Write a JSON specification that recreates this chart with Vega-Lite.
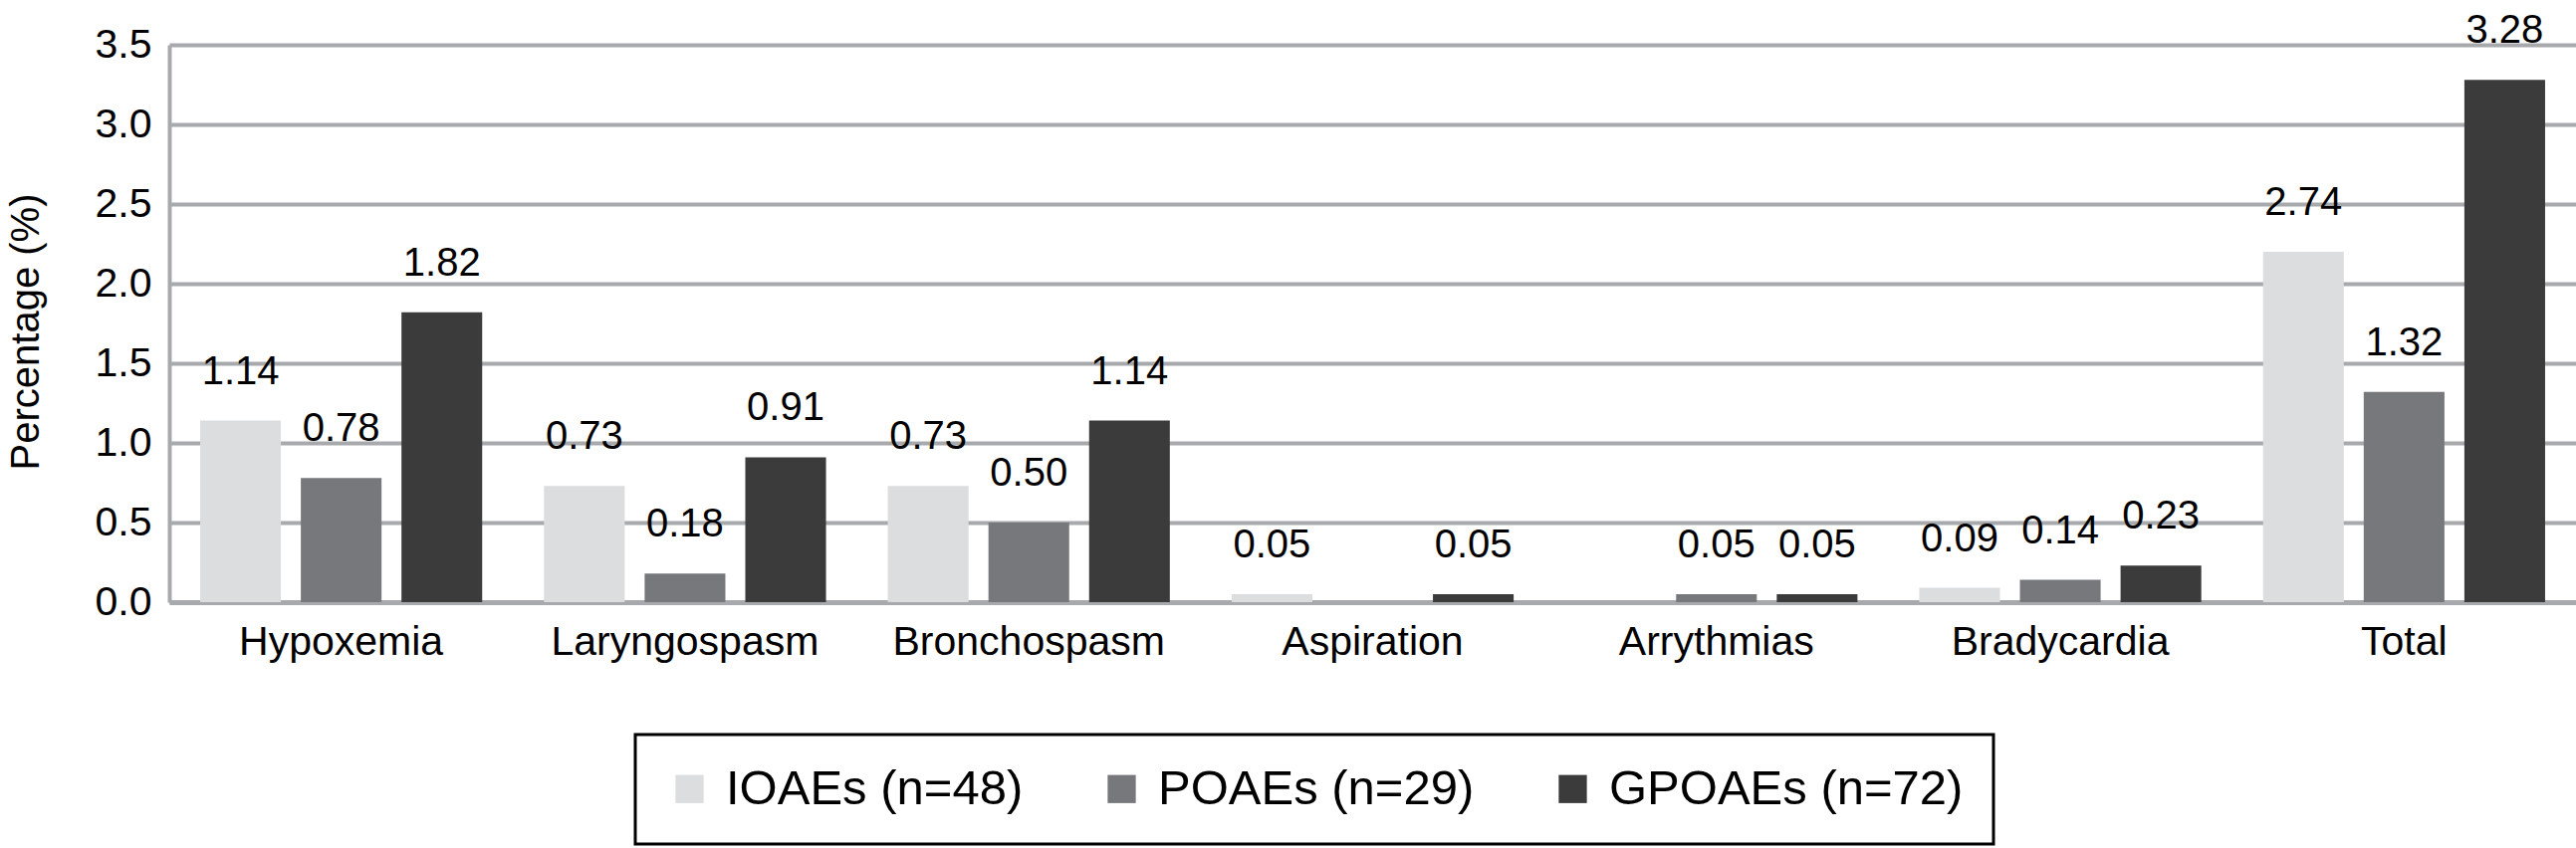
{
  "$schema": "https://vega.github.io/schema/vega-lite/v6.json",
  "width": 2417,
  "height": 560,
  "autosize": {"type": "none"},
  "padding": {"left": 170, "top": 45, "right": 0, "bottom": 247},
  "background": "white",
  "config": {"view": {"stroke": null}, "font": "Liberation Sans"},
  "data": {
    "values": [
      {"category": "Hypoxemia", "series": "IOAEs (n=48)", "value": 1.14, "label": "1.14"},
      {"category": "Hypoxemia", "series": "POAEs (n=29)", "value": 0.78, "label": "0.78"},
      {"category": "Hypoxemia", "series": "GPOAEs (n=72)", "value": 1.82, "label": "1.82"},
      {"category": "Laryngospasm", "series": "IOAEs (n=48)", "value": 0.73, "label": "0.73"},
      {"category": "Laryngospasm", "series": "POAEs (n=29)", "value": 0.18, "label": "0.18"},
      {"category": "Laryngospasm", "series": "GPOAEs (n=72)", "value": 0.91, "label": "0.91"},
      {"category": "Bronchospasm", "series": "IOAEs (n=48)", "value": 0.73, "label": "0.73"},
      {"category": "Bronchospasm", "series": "POAEs (n=29)", "value": 0.5, "label": "0.50"},
      {"category": "Bronchospasm", "series": "GPOAEs (n=72)", "value": 1.14, "label": "1.14"},
      {"category": "Aspiration", "series": "IOAEs (n=48)", "value": 0.05, "label": "0.05"},
      {"category": "Aspiration", "series": "GPOAEs (n=72)", "value": 0.05, "label": "0.05"},
      {"category": "Arrythmias", "series": "POAEs (n=29)", "value": 0.05, "label": "0.05"},
      {"category": "Arrythmias", "series": "GPOAEs (n=72)", "value": 0.05, "label": "0.05"},
      {"category": "Bradycardia", "series": "IOAEs (n=48)", "value": 0.09, "label": "0.09"},
      {"category": "Bradycardia", "series": "POAEs (n=29)", "value": 0.14, "label": "0.14"},
      {"category": "Bradycardia", "series": "GPOAEs (n=72)", "value": 0.23, "label": "0.23"},
      {"category": "Total", "series": "IOAEs (n=48)", "value": 2.2, "label": "2.74"},
      {"category": "Total", "series": "POAEs (n=29)", "value": 1.32, "label": "1.32"},
      {"category": "Total", "series": "GPOAEs (n=72)", "value": 3.28, "label": "3.28"}
    ]
  },
  "encoding": {
    "x": {
      "field": "category",
      "type": "nominal",
      "sort": ["Hypoxemia", "Laryngospasm", "Bronchospasm", "Aspiration", "Arrythmias", "Bradycardia", "Total"],
      "scale": {"paddingInner": 0, "paddingOuter": 0},
      "axis": {
        "title": null,
        "labelAngle": 0,
        "labelFontSize": 41,
        "labelColor": "black",
        "labelLimit": 0,
        "labelPadding": 20,
        "ticks": false,
        "tickSize": 0,
        "domain": true,
        "domainColor": "#a7a9ac",
        "domainWidth": 5,
        "grid": false
      }
    },
    "xOffset": {
      "field": "series",
      "type": "nominal",
      "sort": ["IOAEs (n=48)", "POAEs (n=29)", "GPOAEs (n=72)"],
      "scale": {"domain": ["IOAEs (n=48)", "POAEs (n=29)", "GPOAEs (n=72)"], "paddingInner": 0.198, "paddingOuter": 0.307}
    },
    "y": {
      "field": "value",
      "type": "quantitative",
      "scale": {"domain": [0, 3.5], "nice": false},
      "axis": {
        "values": [0, 0.5, 1, 1.5, 2, 2.5, 3, 3.5],
        "format": ".1f",
        "title": "Percentage (%)",
        "titleFontSize": 40,
        "titleFontWeight": "normal",
        "titleColor": "black",
        "titleX": -132,
        "titleY": 288,
        "titleAngle": -90,
        "titleAlign": "center",
        "titleBaseline": "alphabetic",
        "labelFontSize": 41,
        "labelColor": "black",
        "labelPadding": 18,
        "ticks": false,
        "tickSize": 0,
        "domain": true,
        "domainColor": "#a7a9ac",
        "domainWidth": 4,
        "grid": true,
        "gridColor": "#a7a9ac",
        "gridWidth": 4
      }
    }
  },
  "layer": [
    {
      "mark": {"type": "bar"},
      "encoding": {
        "color": {
          "field": "series",
          "type": "nominal",
          "scale": {
            "domain": ["IOAEs (n=48)", "POAEs (n=29)", "GPOAEs (n=72)"],
            "range": ["#dcdddf", "#77787b", "#3b3b3c"]
          },
          "legend": {
            "orient": "none",
            "legendX": 468,
            "legendY": 693,
            "direction": "horizontal",
            "title": null,
            "labelFontSize": 49,
            "labelColor": "black",
            "labelLimit": 0,
            "symbolType": "square",
            "symbolSize": 800,
            "symbolStrokeWidth": 0,
            "labelOffset": 12,
            "columnPadding": 74,
            "padding": 30,
            "strokeColor": "black",
            "fillColor": "white",
            "cornerRadius": 0,
            "encode": {"legend": {"update": {"strokeWidth": {"value": 3}}}}
          }
        }
      }
    },
    {
      "mark": {"type": "text", "dy": -37, "baseline": "alphabetic", "align": "center", "fontSize": 40, "color": "black"},
      "encoding": {"text": {"field": "label", "type": "nominal"}}
    }
  ]
}
